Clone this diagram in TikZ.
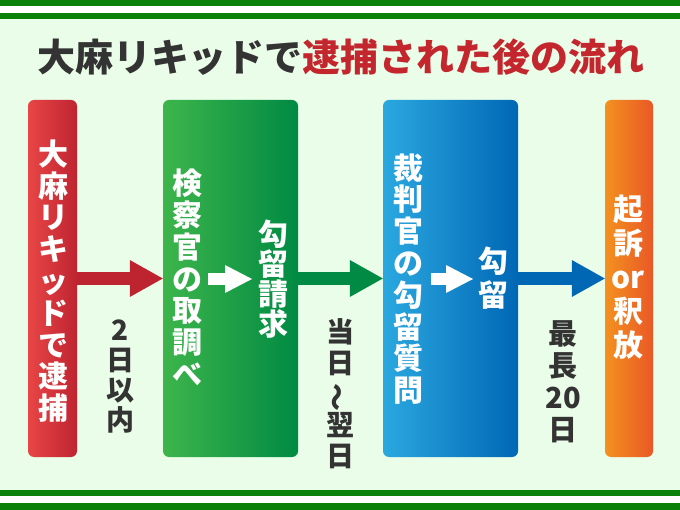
\documentclass[tikz,border=0pt]{standalone}
\usepackage{fontspec}
\setmainfont{Noto Sans CJK JP}
\usepackage{graphicx}
\usetikzlibrary{arrows.meta}
\definecolor{bg}{HTML}{EAFDE8}
\definecolor{band}{HTML}{0A820A}
\definecolor{dark}{HTML}{333333}
\definecolor{tred}{HTML}{C4262E}
\definecolor{redL}{HTML}{E84646}
\definecolor{redR}{HTML}{BE2430}
\definecolor{grnL}{HTML}{3DB54B}
\definecolor{grnR}{HTML}{008A43}
\definecolor{bluL}{HTML}{2BA8E0}
\definecolor{bluR}{HTML}{0067B5}
\definecolor{orgL}{HTML}{F39120}
\definecolor{orgR}{HTML}{E95826}
\begin{document}
\begin{tikzpicture}[x=1pt,y=-1pt,
  box/.style={rounded corners=6pt, minimum height=357pt, inner sep=0pt, draw=none},
  vtext/.style={align=center, text=white, font=\bfseries\fontsize{30}{31.8}\selectfont, inner sep=0pt},
  ltext/.style={align=center, text=dark, font=\bfseries\fontsize{28}{30}\selectfont, inner sep=0pt},
  fat/.style={line width=13pt, -{Triangle[length=33pt 0 0, width=37pt 0 0, line width=0pt 0 0]}},
  thin/.style={white, line width=12pt, -{Triangle[length=27pt 0 0, width=28pt 0 0, line width=0pt 0 0]}}
]
\useasboundingbox (0,0) rectangle (680,510);
% background and bands
\fill[white] (0,0) rectangle (680,510);
\fill[bg] (0,19) rectangle (680,490);
\fill[band] (0,0) rectangle (680,6);
\fill[band] (0,13) rectangle (680,19);
\fill[band] (0,490) rectangle (680,496);
\fill[band] (0,503) rectangle (680,510);
% title
\node[inner sep=0pt] (title) at (341,57) {\bfseries\fontsize{38}{38}\selectfont\textcolor{dark}{大麻リキッドで}\textcolor{tred}{逮捕された後の流れ}};
% boxes
\node[box, minimum width=49pt, left color=redL, right color=redR] (rbox) at (52.5,278.5) {};
\node[box, minimum width=135pt, left color=grnL, right color=grnR] (gbox) at (230.5,278.5) {};
\node[box, minimum width=135pt, left color=bluL, right color=bluR] (bbox) at (450.5,278.5) {};
\node[box, minimum width=48pt, left color=orgL, right color=orgR] (obox) at (629,278.5) {};
% connectors
\draw[fat, redR] (rbox.east) -- (gbox.west);
\draw[fat, grnR] (gbox.east) -- (bbox.west);
\draw[fat, bluR] (bbox.east) -- (obox.west);
\coordinate (w1a) at (208,279);
\coordinate (w1b) at (252,279);
\coordinate (w2a) at (431,279);
\coordinate (w2b) at (473,279);
\draw[thin] (w1a) -- (w1b);
\draw[thin] (w2a) -- (w2b);
% box texts
\node[vtext] (t1) at (53,281) {大\\麻\\リ\\キ\\ッ\\ド\\で\\逮\\捕};
\node[vtext] (t2) at (187,277.5) {検\\察\\官\\の\\取\\調\\べ};
\node[vtext, font=\bfseries\fontsize{30}{30}\selectfont] (t3) at (273,279) {勾\\留\\請\\求};
\node[vtext] (t4) at (408,279) {裁\\判\\官\\の\\勾\\留\\質\\問};
\node[vtext, font=\bfseries\fontsize{30}{34}\selectfont] (t5) at (493,278.5) {勾\\留};
\node[vtext, font=\bfseries\fontsize{30}{34}\selectfont] (t6) at (628,277.5) {起\\訴\\or\\釈\\放};
% labels
\node[ltext] (l1) at (120,376) {2\\日\\以\\内};
\node[ltext, font=\bfseries\fontsize{28}{31}\selectfont] (l2) at (340,394) {当\\日\\\rotatebox[origin=c]{90}{〜}\\翌\\日};
\node[ltext, font=\bfseries\fontsize{29}{32}\selectfont] (l3) at (563,382) {最\\長\\20\\日};
\end{tikzpicture}
\end{document}
